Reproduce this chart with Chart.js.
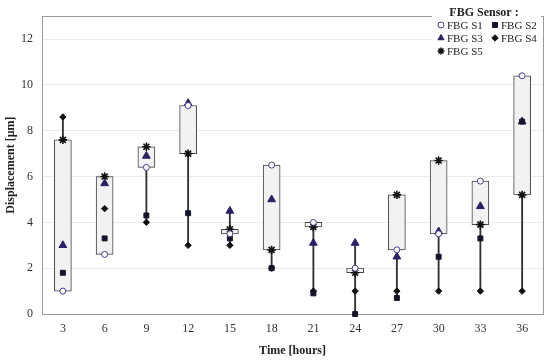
<!DOCTYPE html>
<html>
<head>
<meta charset="utf-8">
<script src="https://cdn.jsdelivr.net/npm/chart.js@4.4.1/dist/chart.umd.min.js"></script>
<style>
  html, body { margin: 0; padding: 0; background: #fff; }
  #wrap { width: 550px; height: 362px; }
</style>
</head>
<body>
<div id="wrap"><canvas id="chart"></canvas></div>
<script>
// Time points (hours)
const timeLabels = ['3', '6', '9', '12', '15', '18', '21', '24', '27', '30', '33', '36'];

// Displacement per sensor [µm]
const sensorS1 = [1.0, 2.6, 6.4, 9.1, 3.5, 6.5, 4.0, 2.0, 2.8, 3.5, 5.8, 10.4];
const sensorS2 = [1.8, 3.3, 4.3, 4.4, 3.3, 2.0, 0.9, 0.0, 0.7, 2.5, 3.3, 8.4];
const sensorS3 = [3.0, 5.7, 6.9, 9.2, 4.5, 5.0, 3.1, 3.1, 2.5, 3.6, 4.7, 8.4];
const sensorS4 = [8.6, 4.6, 4.0, 3.0, 3.0, 2.0, 1.0, 1.0, 1.0, 1.0, 1.0, 1.0];
const sensorS5 = [7.6, 6.0, 7.3, 7.0, 3.7, 2.8, 3.8, 1.8, 5.2, 6.7, 3.9, 5.2];

const yTicks = [0, 2, 4, 6, 8, 10, 12];

const SERIF = "'Liberation Serif', 'DejaVu Serif', serif";

// whisker = full range of the five sensors, box = S1 to S5
const allSensors = [sensorS1, sensorS2, sensorS3, sensorS4, sensorS5];
const whiskerData = timeLabels.map((_, i) => {
  const vals = allSensors.map(s => s[i]);
  return [Math.min(...vals), Math.max(...vals)];
});
const boxData = timeLabels.map((_, i) => [sensorS1[i], sensorS5[i]]);

function markerSet(label, data, style, radius, fill, border, width = 1) {
  return {
    type: 'line',
    label,
    data,
    showLine: false,
    pointStyle: style,
    pointRadius: radius,
    pointHoverRadius: radius,
    pointBackgroundColor: fill,
    pointBorderColor: border,
    pointBorderWidth: width,
    backgroundColor: fill,
    borderColor: border,
    order: 0,
    clip: false
  };
}

const markerSets = [
  markerSet('FBG S1', sensorS1, 'circle', 3, '#ffffff', '#4b3b8f'),
  markerSet('FBG S2', sensorS2, 'rect', 3.5, '#15152a', '#15152a'),
  markerSet('FBG S3', sensorS3, 'triangle', 4.5, '#2b1f66', '#2b1f66'),
  markerSet('FBG S4', sensorS4, 'rectRot', 3.2, '#111111', '#111111'),
  markerSet('FBG S5', sensorS5, 'star', 4.2, '#111111', '#111111', 1.6)
];

// legend drawn inside the plot, top right
const insideLegend = {
  id: 'insideLegend',
  afterDraw(chart) {
    const ctx = chart.ctx;
    ctx.save();
    ctx.fillStyle = '#ffffff';
    ctx.fillRect(432, 7, 109, 53);

    ctx.fillStyle = '#222';
    ctx.font = "bold 12px " + SERIF;
    ctx.textAlign = 'center';
    ctx.textBaseline = 'middle';
    ctx.fillText('FBG Sensor :', 484, 13);

    const spots = [[441, 25], [495, 25], [441, 38], [495, 38], [441, 51]];
    ctx.font = "11px " + SERIF;
    ctx.textAlign = 'left';
    markerSets.forEach((ds, i) => {
      const [x, y] = spots[i];
      ctx.fillStyle = ds.pointBackgroundColor;
      ctx.strokeStyle = ds.pointBorderColor;
      ctx.lineWidth = ds.pointBorderWidth;
      Chart.helpers.drawPoint(ctx, {
        pointStyle: ds.pointStyle,
        radius: Math.min(ds.pointRadius, 3.5),
        rotation: 0,
        borderWidth: ds.pointBorderWidth
      }, x, y);
      ctx.fillStyle = '#222';
      ctx.fillText(ds.label, x + 6, y + 1);
    });
    ctx.restore();
  }
};

// gray frame round the plot area
const plotFrame = {
  id: 'plotFrame',
  beforeDatasetsDraw(chart) {
    const a = chart.chartArea;
    const ctx = chart.ctx;
    ctx.save();
    ctx.strokeStyle = '#9a9a9a';
    ctx.lineWidth = 1;
    ctx.strokeRect(Math.round(a.left) + 0.5, Math.round(a.top) + 0.5,
      Math.round(a.right - a.left), Math.round(a.bottom - a.top));
    ctx.restore();
  }
};

new Chart(document.getElementById('chart'), {
  type: 'bar',
  data: {
    labels: timeLabels,
    datasets: [
      ...markerSets,
      {
        label: 'box',
        data: boxData,
        backgroundColor: '#f2f2f2',
        borderColor: '#444444',
        borderWidth: 1,
        borderSkipped: false,
        barThickness: 17,
        grouped: false,
        order: 1
      },
      {
        label: 'whisker',
        data: whiskerData,
        backgroundColor: '#333333',
        borderWidth: 0,
        barThickness: 1.2,
        grouped: false,
        order: 2
      }
    ]
  },
  options: {
    responsive: true,
    maintainAspectRatio: false,
    animation: false,
    layout: { padding: { top: 6, right: 7, left: 0, bottom: 0 } },
    plugins: {
      legend: { display: false },
      tooltip: { enabled: false }
    },
    scales: {
      x: {
        grid: { display: false, drawTicks: false },
        border: { display: false },
        ticks: { color: '#333', font: { family: SERIF, size: 12 }, padding: 8 },
        title: {
          display: true,
          text: 'Time [hours]',
          color: '#222',
          font: { family: SERIF, size: 12, weight: 'bold' },
          padding: { top: 8 }
        },
        afterFit(scale) { scale.height = 48; }
      },
      y: {
        min: 0,
        max: 13,
        afterBuildTicks(scale) { scale.ticks = yTicks.map(v => ({ value: v })); },
        grid: { color: '#ececec', drawTicks: false },
        border: { display: false },
        ticks: { color: '#333', font: { family: SERIF, size: 12 }, padding: 9 },
        title: {
          display: true,
          text: 'Displacement [μm]',
          color: '#222',
          font: { family: SERIF, size: 12, weight: 'bold' },
          padding: { top: 4, bottom: 2 }
        },
        afterFit(scale) { scale.width = 42; }
      }
    }
  },
  plugins: [plotFrame, insideLegend]
});
</script>
</body>
</html>
